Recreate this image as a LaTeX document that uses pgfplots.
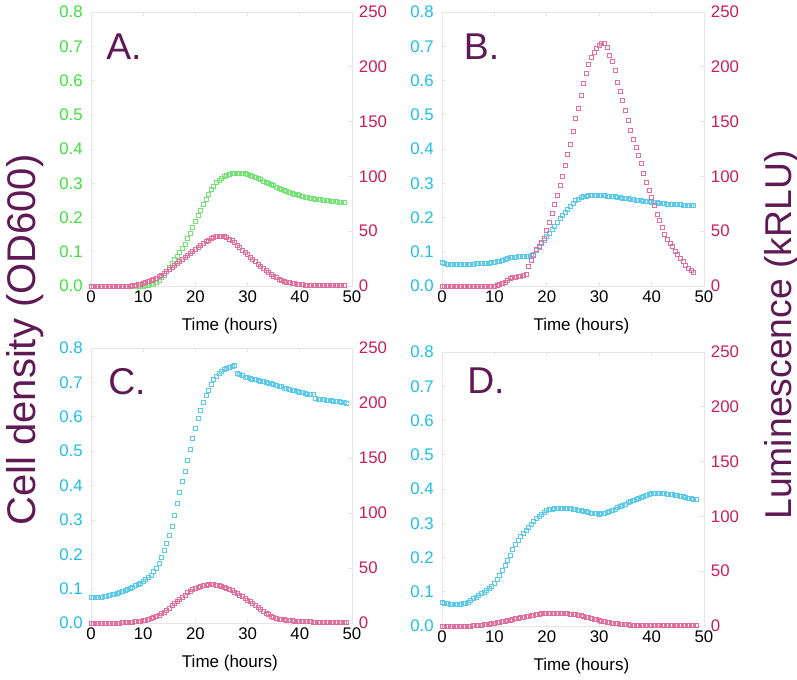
\documentclass[border=0pt]{standalone}
\usepackage{fontspec}
\setmainfont{Liberation Sans}
\usepackage{pgfplots}
\usepackage{pgfplotstable}
\pgfplotsset{compat=1.18}

\definecolor{grn}{RGB}{60,225,60}
\definecolor{grnm}{RGB}{115,228,115}
\definecolor{cyn}{RGB}{30,190,235}
\definecolor{cynm}{RGB}{90,202,236}
\definecolor{crim}{RGB}{200,30,90}
\definecolor{pinkm}{RGB}{226,110,158}
\definecolor{purp}{RGB}{95,25,85}
\definecolor{frm}{RGB}{230,230,230}

\pgfplotstableread{
t od lum
0 0.000 0
0.5 0.000 0
1 0.000 0
1.5 0.000 0
2 0.000 0
2.5 0.000 0
3 0.000 0
3.5 0.000 0
4 0.000 0
4.5 0.000 0
5 0.000 0
5.5 0.000 0
6 0.000 0
6.5 0.000 0
7 0.000 0
7.5 0.000 0
8 0.000 0.4
8.5 0.000 0.7
9 0.000 1.2
9.5 0.000 1.7
10 0.000 2.4
10.5 0.001 3.2
11 0.002 4.2
11.5 0.004 5.2
12 0.006 6.2
12.5 0.011 7.4
13 0.017 8.6
13.5 0.024 9.9
14 0.032 11.3
14.5 0.043 13.0
15 0.055 15.0
15.5 0.066 17.1
16 0.077 19.1
16.5 0.088 20.9
17 0.099 22.7
17.5 0.110 24.4
18 0.122 26.0
18.5 0.138 27.8
19 0.154 29.6
19.5 0.171 31.5
20 0.188 33.4
20.5 0.205 35.4
21 0.222 37.3
21.5 0.239 39.0
22 0.254 40.6
22.5 0.268 42.0
23 0.281 43.2
23.5 0.292 44.2
24 0.302 45.0
24.5 0.309 45.5
25 0.315 45.7
25.5 0.320 45.3
26 0.324 44.3
26.5 0.327 43.0
27 0.329 41.3
27.5 0.330 39.4
28 0.330 37.2
28.5 0.330 35.0
29 0.329 32.8
29.5 0.328 30.7
30 0.326 28.6
30.5 0.324 26.5
31 0.321 24.4
31.5 0.318 22.2
32 0.314 20.0
32.5 0.311 17.9
33 0.307 15.9
33.5 0.303 14.0
34 0.300 12.3
34.5 0.296 10.6
35 0.293 9.0
35.5 0.289 7.5
36 0.286 6.2
36.5 0.283 5.1
37 0.280 4.2
37.5 0.277 3.5
38 0.274 2.9
38.5 0.271 2.5
39 0.269 2.1
39.5 0.267 1.8
40 0.265 1.5
40.5 0.262 1.2
41 0.260 1.0
41.5 0.258 0.9
42 0.257 0.7
42.5 0.255 0.6
43 0.254 0.5
43.5 0.253 0.5
44 0.252 0.4
44.5 0.251 0.4
45 0.250 0.3
45.5 0.249 0.3
46 0.248 0.3
46.5 0.247 0.2
47 0.246 0.2
47.5 0.245 0.2
48 0.244 0.2
48.5 0.243 0.2
}\tabA

\pgfplotstableread{
t od lum
0 0.068 0
0.5 0.066 0
1 0.064 0
1.5 0.063 0
2 0.063 0
2.5 0.062 0
3 0.062 0
3.5 0.062 0
4 0.063 0
4.5 0.063 0
5 0.063 0
5.5 0.064 0
6 0.064 0
6.5 0.065 0
7 0.065 0
7.5 0.066 0
8 0.066 0
8.5 0.067 0
9 0.067 0
9.5 0.068 0
10 0.069 0
10.5 0.071 0.5
11 0.073 1.5
11.5 0.076 2.5
12 0.078 3.7
12.5 0.081 5.2
13 0.083 6.7
13.5 0.084 7.6
14 0.085 8.2
14.5 0.086 8.6
15 0.086 8.9
15.5 0.087 9.4
16 0.087 11.0
16.5 0.088 18.0
17 0.089 23.5
17.5 0.093 28.0
18 0.104 33.0
18.5 0.114 36.5
19 0.124 39.5
19.5 0.134 43.5
20 0.144 50.5
20.5 0.154 58.0
21 0.164 66.0
21.5 0.175 74.5
22 0.186 83.0
22.5 0.197 91.5
23 0.207 100.5
23.5 0.216 110.5
24 0.225 120.0
24.5 0.234 129.0
25 0.242 141.0
25.5 0.249 153.0
26 0.254 162.0
26.5 0.258 174.0
27 0.261 185.0
27.5 0.263 194.0
28 0.264 202.0
28.5 0.264 209.0
29 0.264 213.5
29.5 0.264 216.5
30 0.264 219.5
30.5 0.264 221.5
31 0.264 221.0
31.5 0.263 217.5
32 0.263 210.5
32.5 0.262 205.0
33 0.261 197.0
33.5 0.260 186.0
34 0.259 178.0
34.5 0.257 169.0
35 0.256 160.0
35.5 0.255 151.0
36 0.253 142.0
36.5 0.252 134.0
37 0.251 126.5
37.5 0.250 119.5
38 0.249 111.5
38.5 0.248 103.0
39 0.247 95.0
39.5 0.246 87.0
40 0.245 81.0
40.5 0.244 74.0
41 0.243 65.7
41.5 0.242 59.6
42 0.241 53.5
42.5 0.240 47.5
43 0.239 42.5
43.5 0.239 39.0
44 0.238 36.0
44.5 0.238 32.0
45 0.237 29.0
45.5 0.237 25.3
46 0.236 22.2
46.5 0.236 19.0
47 0.236 16.5
47.5 0.235 14.4
48 0.235 12.2
}\tabB

\pgfplotstableread{
t od lum
0 0.076 0
0.5 0.075 0
1 0.075 0
1.5 0.075 0
2 0.076 0
2.5 0.077 0
3 0.078 0
3.5 0.080 0
4 0.082 0
4.5 0.084 0
5 0.087 0
5.5 0.090 0.1
6 0.093 0.2
6.5 0.096 0.4
7 0.099 0.6
7.5 0.102 0.8
8 0.105 0.9
8.5 0.109 1.1
9 0.112 1.4
9.5 0.116 1.7
10 0.120 2.1
10.5 0.126 2.7
11 0.132 3.4
11.5 0.140 4.2
12 0.149 5.0
12.5 0.160 6.1
13 0.173 7.3
13.5 0.190 8.6
14 0.210 10.0
14.5 0.231 11.7
15 0.255 13.5
15.5 0.282 15.8
16 0.313 18.0
16.5 0.347 19.6
17 0.380 21.2
17.5 0.411 23.3
18 0.441 25.5
18.5 0.472 27.5
19 0.505 29.2
19.5 0.537 30.5
20 0.566 31.6
20.5 0.595 32.5
21 0.620 33.3
21.5 0.642 34.0
22 0.661 34.5
22.5 0.678 34.8
23 0.695 34.9
23.5 0.708 34.8
24 0.718 34.5
24.5 0.726 33.9
25 0.733 33.2
25.5 0.738 32.4
26 0.742 31.5
26.5 0.745 30.5
27 0.748 29.4
27.5 0.749 28.2
28 0.727 27.0
28.5 0.722 25.5
29 0.719 24.0
29.5 0.716 22.5
30 0.714 21.0
30.5 0.712 19.5
31 0.710 18.0
31.5 0.708 16.0
32 0.706 14.0
32.5 0.704 12.2
33 0.702 10.5
33.5 0.700 9.0
34 0.698 7.5
34.5 0.696 6.2
35 0.694 5.0
35.5 0.691 4.2
36 0.689 3.6
36.5 0.687 3.2
37 0.684 2.9
37.5 0.682 2.6
38 0.680 2.4
38.5 0.678 2.1
39 0.676 1.9
39.5 0.674 1.7
40 0.672 1.5
40.5 0.670 1.4
41 0.668 1.3
41.5 0.666 1.2
42 0.665 1.1
42.5 0.664 1.0
43 0.653 1.0
43.5 0.652 0.9
44 0.651 0.9
44.5 0.650 0.8
45 0.649 0.8
45.5 0.648 0.7
46 0.647 0.7
46.5 0.646 0.7
47 0.645 0.6
47.5 0.644 0.6
48 0.643 0.6
48.5 0.641 0.6
49 0.639 0.6
}\tabC

\pgfplotstableread{
t od lum
0 0.070 0
0.5 0.067 0
1 0.065 0
1.5 0.064 0
2 0.063 0
2.5 0.063 0
3 0.063 0
3.5 0.064 0
4 0.065 0
4.5 0.067 0
5 0.070 0
5.5 0.075 0.1
6 0.080 0.3
6.5 0.085 0.5
7 0.090 0.7
7.5 0.094 1.0
8 0.097 1.2
8.5 0.103 1.5
9 0.109 1.8
9.5 0.117 2.1
10 0.126 2.4
10.5 0.137 2.9
11 0.148 3.3
11.5 0.163 3.8
12 0.178 4.3
12.5 0.193 4.9
13 0.207 5.5
13.5 0.223 6.1
14 0.239 6.7
14.5 0.250 7.2
15 0.261 7.6
15.5 0.271 8.1
16 0.280 8.5
16.5 0.289 9.0
17 0.297 9.5
17.5 0.306 10.0
18 0.315 10.4
18.5 0.321 10.8
19 0.327 11.1
19.5 0.332 11.4
20 0.337 11.6
20.5 0.340 11.8
21 0.342 12.0
21.5 0.343 12.0
22 0.344 12.0
22.5 0.344 11.9
23 0.344 11.7
23.5 0.344 11.5
24 0.344 11.3
24.5 0.343 11.0
25 0.342 10.7
25.5 0.340 10.4
26 0.339 10.0
26.5 0.337 9.4
27 0.335 8.8
27.5 0.334 8.2
28 0.332 7.6
28.5 0.330 7.0
29 0.329 6.4
29.5 0.328 5.8
30 0.327 5.2
30.5 0.328 4.6
31 0.329 4.1
31.5 0.331 3.5
32 0.334 3.0
32.5 0.338 2.7
33 0.341 2.4
33.5 0.345 2.1
34 0.349 1.8
34.5 0.353 1.6
35 0.356 1.3
35.5 0.360 1.1
36 0.363 0.9
36.5 0.366 0.8
37 0.370 0.7
37.5 0.373 0.6
38 0.376 0.5
38.5 0.379 0.5
39 0.381 0.4
39.5 0.384 0.4
40 0.386 0.4
40.5 0.387 0.4
41 0.388 0.3
41.5 0.388 0.3
42 0.386 0.3
42.5 0.386 0.3
43 0.385 0.3
43.5 0.384 0.3
44 0.383 0.3
44.5 0.382 0.3
45 0.381 0.3
45.5 0.380 0.3
46 0.378 0.3
46.5 0.376 0.3
47 0.374 0.3
47.5 0.372 0.3
48 0.370 0.3
48.5 0.369 0.3
}\tabD

\pgfplotsset{
  base/.style={
    scale only axis, xmin=0, xmax=50, clip=false,
    tick align=inside, major tick length=3pt,
    every tick/.style={frm, line width=0.5pt},
    axis line style={frm, line width=0.6pt},
    tick label style={font=\fontsize{12.6}{14}\selectfont},
    /pgf/number format/assume math mode=true,
  },
  leftax/.style={
    base, ymin=0, ymax=0.8,
    ytick={0,0.1,0.2,0.3,0.4,0.5,0.6,0.7,0.8},
    xtick={0,10,20,30,40,50},
    ytick pos=left, xtick pos=both,
    yticklabel style={/pgf/number format/fixed, /pgf/number format/fixed zerofill,
      /pgf/number format/precision=1,
      anchor=east, inner sep=0pt, xshift=-6pt, text=#1},
    xticklabel style={anchor=north, inner sep=0pt, yshift=-3.5pt, text=black},
    xlabel={Time (hours)},
    xlabel style={at={(axis description cs:0.532,0)}, anchor=center, yshift=-30pt,
      font=\fontsize{12.75}{14}\selectfont},
  },
  rightax/.style={
    base, axis x line=none, axis y line*=right,
    ymin=0, ymax=250, ytick={0,50,100,150,200,250},
    ytick pos=right,
    yticklabel style={anchor=west, inner sep=0pt, xshift=5pt, text=crim},
  },
  odmark/.style={only marks, mark=square, mark size=1.5pt, color=#1, mark options={line width=0.5pt}},
  lummark/.style={only marks, mark=square, mark size=1.5pt, color=pinkm, mark options={line width=0.5pt}},
}

\newcommand{\panel}[7]{%
  \begin{axis}[leftax=#6, at={(#1,#2)}, anchor=south west, width=#3, height=#4]
    \addplot[odmark=#7] table[x=t, y=od] {#5};
  \end{axis}
  \begin{axis}[rightax, at={(#1,#2)}, anchor=south west, width=#3, height=#4]
    \addplot[lummark] table[x=t, y=lum] {#5};
  \end{axis}
}

\begin{document}
\begin{tikzpicture}
\path[use as bounding box] (0,0) rectangle (597.75pt,510pt);

\panel{68.25pt}{295.5pt}{195.75pt}{205.5pt}{\tabA}{grn}{grnm}
\panel{331.5pt}{295.5pt}{196.5pt}{205.5pt}{\tabB}{cyn}{cynm}
\panel{68.25pt}{42.75pt}{195.75pt}{206.25pt}{\tabC}{cyn}{cynm}
\panel{331.5pt}{40.5pt}{196.5pt}{205.5pt}{\tabD}{cyn}{cynm}

\begin{scope}[every node/.style={anchor=west, inner sep=0pt, text=purp, font=\fontsize{28}{30}\selectfont}]
\node at (79.5pt,  474.75pt) {A.};
\node at (347.75pt,474.75pt) {B.};
\node at (81pt,    223.75pt) {C.};
\node at (350.25pt,224.4pt) {D.};
\end{scope}

\node[rotate=90, anchor=base, inner sep=0pt, text=purp, font=\fontsize{30}{32}\selectfont] at (26.25pt,255pt) {Cell density (OD600)};
\node[rotate=90, anchor=base, inner sep=0pt, text=purp, font=\fontsize{28}{30}\selectfont] at (593.25pt,258.75pt) {Luminescence (kRLU)};
\end{tikzpicture}
\end{document}
